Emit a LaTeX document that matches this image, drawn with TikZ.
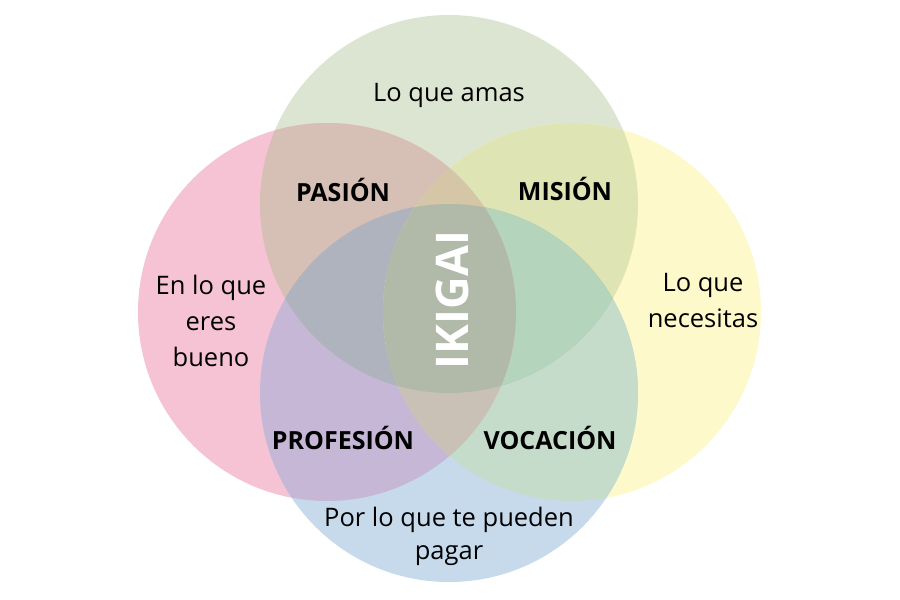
\documentclass[tikz,border=0pt]{standalone}
\usepackage{fontspec}
\setmainfont{Open Sans}
\begin{document}
\begin{tikzpicture}[x=1pt,y=-1pt,
  lbl/.style={font=\fontsize{25.5}{36}\selectfont, align=center, text=black, inner sep=0pt},
  blbl/.style={font=\fontsize{25}{30}\selectfont\bfseries, text=black, inner sep=0pt},
  ikg/.style={font=\fontsize{45}{50}\selectfont\bfseries, text=white, inner sep=0pt, rotate=90}]
\definecolor{cG}{HTML}{DCE4D2}
\definecolor{cP}{HTML}{F5C3D3}
\definecolor{cY}{HTML}{FEF9CB}
\definecolor{cB}{HTML}{C6DAEC}
\definecolor{cPG}{HTML}{D6BFB5}
\definecolor{cGY}{HTML}{DFE4B5}
\definecolor{cPB}{HTML}{C7B7D6}
\definecolor{cYB}{HTML}{C6DCCA}
\definecolor{cPY}{HTML}{D5C6A8}
\definecolor{cGB}{HTML}{B1B9A8}
\definecolor{cPGB}{HTML}{AEB3BE}
\definecolor{cGYB}{HTML}{B5D4BC}
\definecolor{cPYB}{HTML}{CAC1B6}
\definecolor{cPGY}{HTML}{D5C6A8}
\definecolor{cAll}{HTML}{B1B9A8}
\useasboundingbox (0,0) rectangle (900,600);
\fill[white] (0,0) rectangle (900,600);
\def\R{189}
\def\cGc{(449,204)}
\def\cPc{(327,312)}
\def\cYc{(572,312)}
\def\cBc{(449,393)}
% singles
\fill[cG] \cGc circle (\R);
\fill[cP] \cPc circle (\R);
\fill[cY] \cYc circle (\R);
\fill[cB] \cBc circle (\R);
% pairs
\begin{scope}\clip \cPc circle (\R); \fill[cPG] \cGc circle (\R);\end{scope}
\begin{scope}\clip \cGc circle (\R); \fill[cGY] \cYc circle (\R);\end{scope}
\begin{scope}\clip \cPc circle (\R); \fill[cPB] \cBc circle (\R);\end{scope}
\begin{scope}\clip \cYc circle (\R); \fill[cYB] \cBc circle (\R);\end{scope}
\begin{scope}\clip \cPc circle (\R); \fill[cPY] \cYc circle (\R);\end{scope}
\begin{scope}\clip \cGc circle (\R); \fill[cGB] \cBc circle (\R);\end{scope}
% triples
\begin{scope}\clip \cPc circle (\R); \clip \cGc circle (\R); \fill[cPGB] \cBc circle (\R);\end{scope}
\begin{scope}\clip \cGc circle (\R); \clip \cYc circle (\R); \fill[cGYB] \cBc circle (\R);\end{scope}
\begin{scope}\clip \cPc circle (\R); \clip \cYc circle (\R); \fill[cPYB] \cBc circle (\R);\end{scope}
\begin{scope}\clip \cPc circle (\R); \clip \cYc circle (\R); \fill[cPGY] \cGc circle (\R);\end{scope}
% all
\begin{scope}\clip \cPc circle (\R); \clip \cYc circle (\R); \clip \cGc circle (\R); \fill[cAll] \cBc circle (\R);\end{scope}
% labels
\node[lbl] (amas) at (449,95) {Lo que amas};
\node[lbl] (bueno) at (211,321) {En lo que\\eres\\bueno};
\node[lbl] (necesitas) at (703,301) {Lo que\\necesitas};
\node[lbl, font=\fontsize{25.5}{33}\selectfont] (pagar) at (449,536) {Por lo que te pueden\\pagar};
\node[blbl] (pasion) at (343,190) {PASIÓN};
\node[blbl] (mision) at (565,189) {MISIÓN};
\node[blbl] (profesion) at (343,438) {PROFESIÓN};
\node[blbl] (vocacion) at (550,438) {VOCACIÓN};
\node[ikg] (ikigai) at (452,300) {IKIGAI};
\end{tikzpicture}
\end{document}
